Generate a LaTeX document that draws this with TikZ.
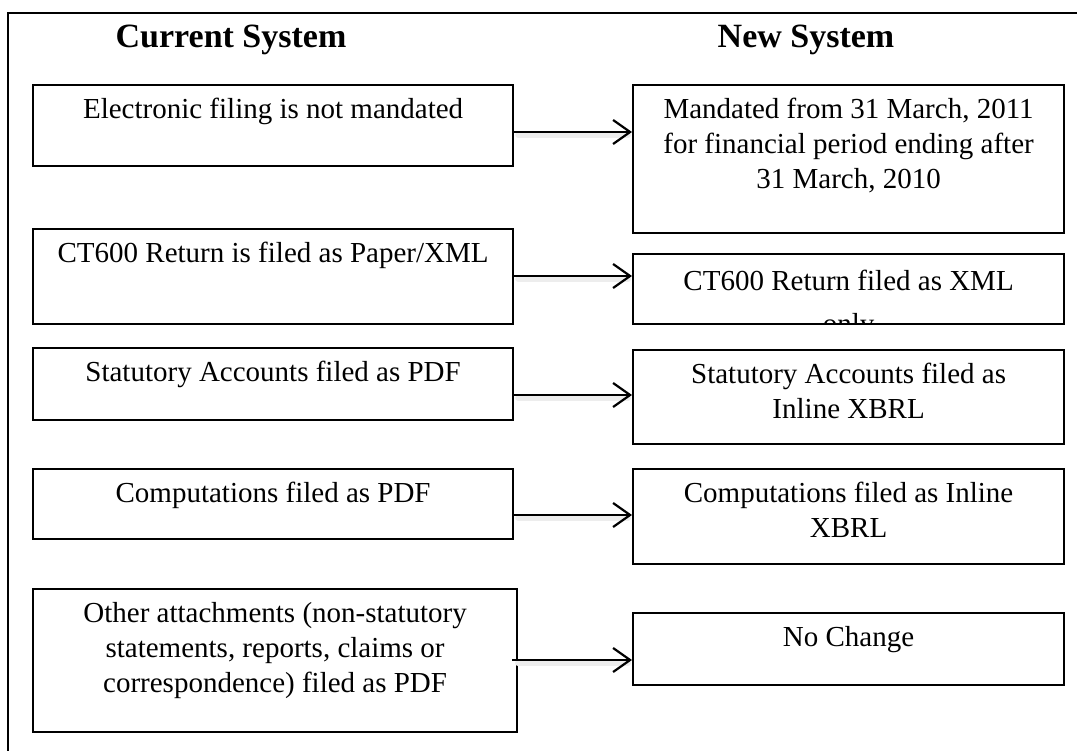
\documentclass[tikz,border=0pt]{standalone}
\usepackage{fontspec}
\setmainfont{Liberation Serif}
\usetikzlibrary{arrows.meta}
\tikzset{
  bx/.style={draw, line width=2.2pt, inner sep=0pt, anchor=north west},
  txt/.style={inner sep=0pt, anchor=north, align=center, font=\fontsize{29}{35}\selectfont},
  head/.style={inner sep=0pt, anchor=base, font=\fontsize{34}{40}\selectfont\bfseries},
  arr/.style={line width=2.2pt, -{Straight Barb[length=17pt,width=24pt,line width=2.2pt]}},
  shad/.style={line width=6pt, black!7, line cap=round, transform canvas={yshift=-3pt}},
}
\newcommand{\bxat}[5]{\node[bx, minimum width=#4-#2, minimum height=#5-#3] (#1) at (#2,#3) {};}
\begin{document}
\begin{tikzpicture}[x=1pt,y=-1pt]
\useasboundingbox (0,0) rectangle (1077,751);
% outer frame (clipped at right and bottom)
\draw[line width=2.4pt] (8,800) -- (8,13) -- (1100,13);
% headings
\node[head] (hc) at (231,48) {Current System};
\node[head] (hn) at (806,48) {New System};
% boxes
\bxat{L1}{32}{84}{512}{165}
\bxat{L2}{32}{228}{512}{323}
\bxat{L3}{32}{347}{512}{419}
\bxat{L4}{32}{468}{512}{538}
\bxat{L5}{32}{588}{516}{731}
\bxat{R1}{632}{84}{1063}{232}
\bxat{R2}{632}{253}{1063}{323}
\bxat{R3}{632}{349}{1063}{443}
\bxat{R4}{632}{468}{1063}{563}
\bxat{R5}{632}{612}{1063}{684}
% texts
\node[txt] (t1) at ([yshift=-10pt]L1.north) {\strut Electronic filing is not mandated};
\node[txt] (t2) at ([yshift=-10pt]L2.north) {\strut CT600 Return is filed as Paper/XML};
\node[txt] (t3) at ([yshift=-10pt]L3.north) {\strut Statutory Accounts filed as PDF};
\node[txt] (t4) at ([yshift=-10pt]L4.north) {\strut Computations filed as PDF};
\node[txt] (t5) at ([yshift=-10pt]L5.north) {\strut Other attachments (non-statutory\\statements, reports, claims or\\correspondence) filed as PDF};
\node[txt] (u1) at ([yshift=-10pt]R1.north) {\strut Mandated from 31 March, 2011\\for financial period ending after\\31 March, 2010};
\begin{scope}
\clip ([xshift=2pt]R2.north west) rectangle ([shift={(-2pt,2pt)}]R2.south east);
\node[txt] (u2) at ([yshift=-13pt]R2.north) {\strut CT600 Return filed as XML\\[8pt]only};
\end{scope}
\node[txt] (u3) at ([yshift=-10pt]R3.north) {\strut Statutory Accounts filed as\\Inline XBRL};
\node[txt] (u4) at ([yshift=-10pt]R4.north) {\strut Computations filed as Inline\\XBRL};
\node[txt] (u5) at ([yshift=-10pt]R5.north) {\strut No Change};
% arrows
\coordinate (a1) at (0,132);
\coordinate (a2) at (0,276);
\coordinate (a3) at (0,395);
\coordinate (a4) at (0,515);
\coordinate (a5) at (512,660);
\foreach \a/\l/\r in {a1/L1/R1, a2/L2/R2, a3/L3/R3, a4/L4/R4}{
  \draw[shad] ([xshift=4pt]\l.east |- \a) -- ([xshift=-4pt]\r.west |- \a);
  \draw[arr] (\l.east |- \a) -- (\r.west |- \a);
}
\draw[shad] ([xshift=6pt]a5) -- ([xshift=-4pt]R5.west |- a5);
\draw[arr] (a5) -- (R5.west |- a5);
\end{tikzpicture}
\end{document}
